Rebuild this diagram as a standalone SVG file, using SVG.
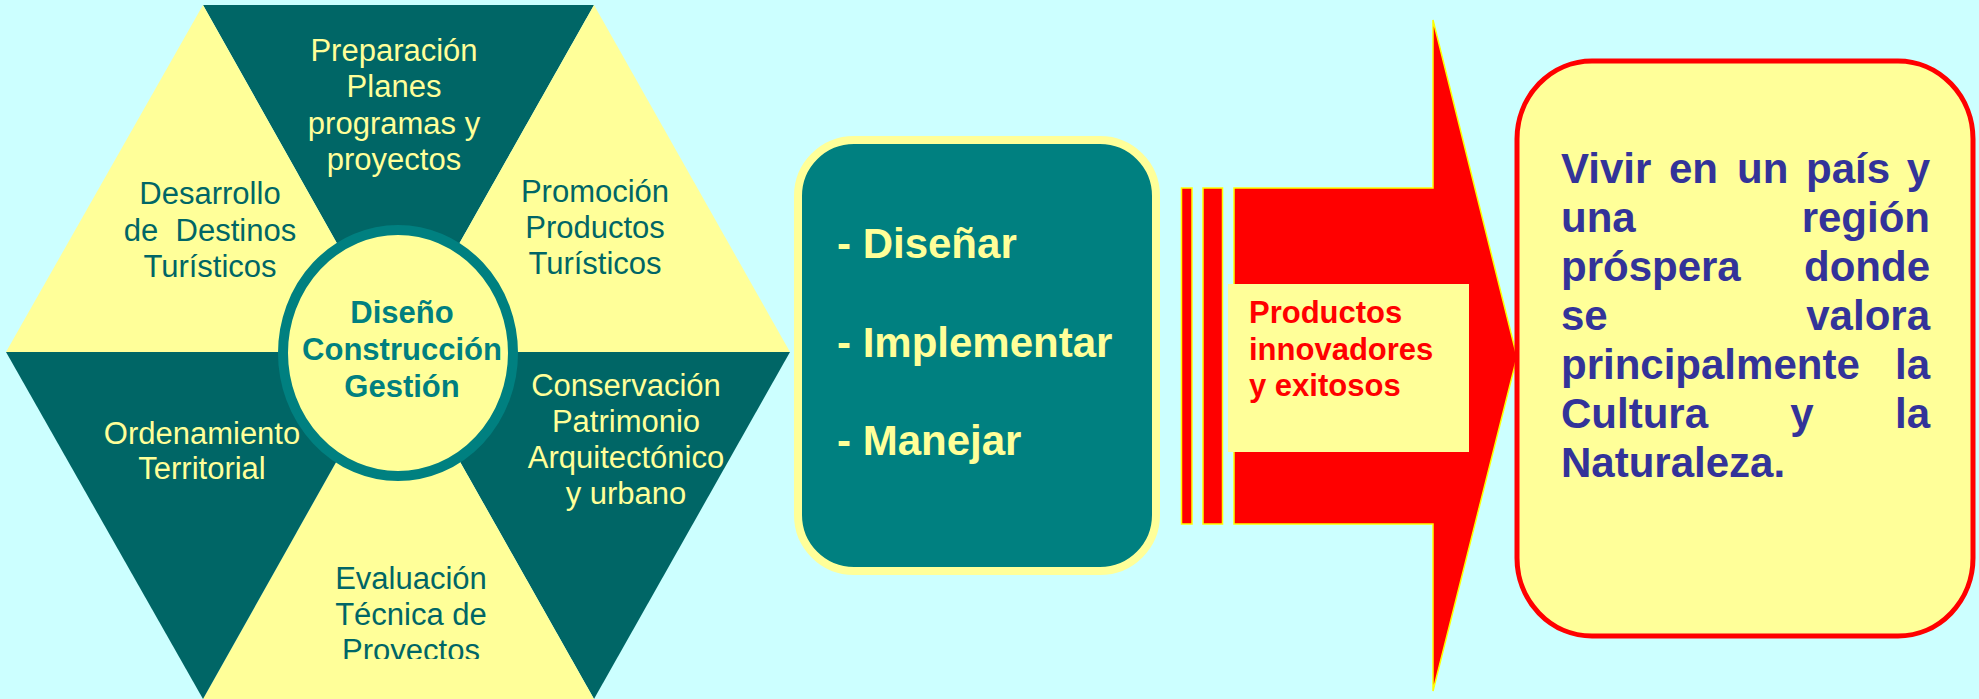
<svg xmlns="http://www.w3.org/2000/svg" width="1979" height="699" viewBox="0 0 1979 699">
<style>
.t{font-family:"Liberation Sans",Arial,sans-serif}
.hx{font-size:31px;text-anchor:middle}
.dk{fill:#006666}
.lt{fill:#FFFF99}
.ctr{font-size:31px;font-weight:bold;fill:#008080;text-anchor:middle}
.act{font-size:42px;font-weight:bold;fill:#FFFF99}
.prod{font-size:31px;font-weight:bold;fill:#FF0000}
.goal{font-size:42px;font-weight:bold;fill:#333399}
.e{text-anchor:end}
.m{text-anchor:middle}
.segd{fill:#006666}
.segl{fill:#FFFF99}
</style>
<defs>
<clipPath id="clipEval"><rect x="0" y="0" width="1979" height="659"/></clipPath>
</defs>
<rect x="0" y="0" width="1979" height="699" fill="#CCFFFF"/>

<g id="seg-preparacion">
<polygon class="segd" points="398,352 203,5 594,5"/>
<text class="t hx lt"><tspan x="394" y="61">Preparación</tspan><tspan x="394" y="97">Planes</tspan><tspan x="394" y="134">programas y</tspan><tspan x="394" y="170">proyectos</tspan></text>
</g>
<g id="seg-desarrollo">
<polygon class="segl" points="398,352 6,352 203,5"/>
<text class="t hx dk"><tspan x="210" y="204">Desarrollo</tspan><tspan x="210" y="241" xml:space="preserve">de  Destinos</tspan><tspan x="210" y="277">Turísticos</tspan></text>
</g>
<g id="seg-promocion">
<polygon class="segl" points="398,352 594,5 790,352"/>
<text class="t hx dk"><tspan x="595" y="202">Promoción</tspan><tspan x="595" y="238">Productos</tspan><tspan x="595" y="274">Turísticos</tspan></text>
</g>
<g id="seg-conservacion">
<polygon class="segd" points="398,352 790,352 594,699"/>
<text class="t hx lt"><tspan x="626" y="396">Conservación</tspan><tspan x="626" y="432">Patrimonio</tspan><tspan x="626" y="468">Arquitectónico</tspan><tspan x="626" y="504">y urbano</tspan></text>
</g>
<g id="seg-evaluacion">
<polygon class="segl" points="398,352 594,699 203,699"/>
<text class="t hx dk" clip-path="url(#clipEval)"><tspan x="411" y="589">Evaluación</tspan><tspan x="411" y="625">Técnica de</tspan><tspan x="411" y="661">Proyectos</tspan></text>
</g>
<g id="seg-ordenamiento">
<polygon class="segd" points="398,352 203,699 6,352"/>
<text class="t hx lt"><tspan x="202" y="444">Ordenamiento</tspan><tspan x="202" y="479">Territorial</tspan></text>
</g>

<g id="centro">
<ellipse cx="398" cy="353" rx="115" ry="123" fill="#FFFF99" stroke="#008080" stroke-width="10"/>
<text class="t ctr"><tspan x="402" y="323">Diseño</tspan><tspan x="402" y="360">Construcción</tspan><tspan x="402" y="397">Gestión</tspan></text>
</g>

<g id="acciones">
<rect x="798" y="140" width="358" height="431" rx="56" ry="56" fill="#008080" stroke="#FFFF99" stroke-width="8"/>
<text class="t act"><tspan x="837" y="258">- Diseñar</tspan><tspan x="837" y="357">- Implementar</tspan><tspan x="837" y="455">- Manejar</tspan></text>
</g>

<g id="connectors">
<g id="flecha-productos">
<rect x="1181.5" y="188" width="10.5" height="336" fill="#FF0000" stroke="#FFFF00" stroke-width="1.5"/>
<rect x="1203" y="188" width="19.5" height="336" fill="#FF0000" stroke="#FFFF00" stroke-width="1.5"/>
<polygon points="1234,188 1433,188 1433,20 1517,357 1433,691 1433,524 1234,524" fill="#FF0000" stroke="#FFFF00" stroke-width="1.5"/>
<rect x="1228" y="284" width="241" height="168" fill="#FFFF99"/>
<text class="t prod"><tspan x="1249" y="323">Productos</tspan><tspan x="1249" y="360">innovadores</tspan><tspan x="1249" y="396">y exitosos</tspan></text>
</g>
</g>

<g id="vision">
<rect x="1517" y="61" width="456" height="575" rx="75" ry="78" fill="#FFFF99" stroke="#FF0000" stroke-width="5"/>
<g class="t goal">
<text x="1561" y="183">Vivir</text><text x="1669" y="183">en</text><text x="1737" y="183">un</text><text x="1806" y="183">país</text><text class="e" x="1930" y="183">y</text>
<text x="1561" y="232">una</text><text class="e" x="1930" y="232">región</text>
<text x="1561" y="281">próspera</text><text class="e" x="1930" y="281">donde</text>
<text x="1561" y="330">se</text><text class="e" x="1930" y="330">valora</text>
<text x="1561" y="379">principalmente</text><text class="e" x="1930" y="379">la</text>
<text x="1561" y="428">Cultura</text><text class="m" x="1802" y="428">y</text><text class="e" x="1930" y="428">la</text>
<text x="1561" y="477">Naturaleza.</text>
</g>
</g>
</svg>
